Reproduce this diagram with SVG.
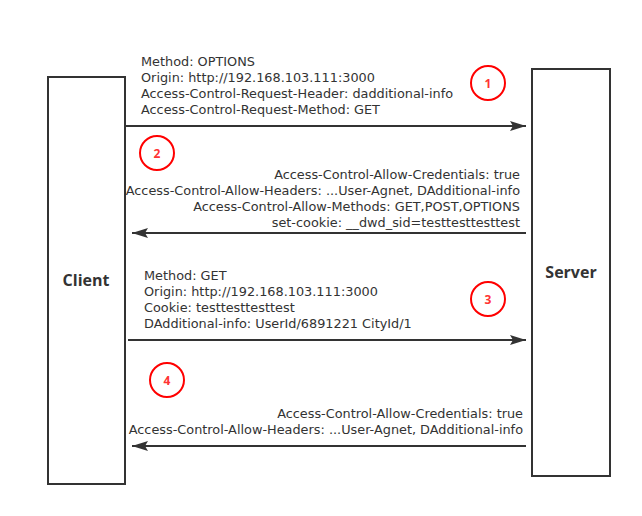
<svg xmlns="http://www.w3.org/2000/svg" width="642" height="516" viewBox="0 0 642 516">
<defs>
<marker id="ah" markerWidth="16" markerHeight="10" refX="16" refY="5" orient="auto" markerUnits="userSpaceOnUse">
<path d="M0,0 L16,5 L0,10 L3,5 Z" fill="#333"/>
</marker>
<style>
.box{fill:#fff;stroke:#333;stroke-width:2}
.lbl{font-family:"Open Sans","Noto Sans",sans-serif;font-size:16px;font-weight:bold;fill:#333;text-anchor:middle}
.t{font-family:"DejaVu Sans",sans-serif;font-size:12.85px;fill:#333}
.r{text-anchor:end}
.ln{stroke:#333;stroke-width:2;fill:none;marker-end:url(#ah)}
.c{fill:none;stroke:#f00;stroke-width:2}
.n{font-family:"Open Sans","Noto Sans",sans-serif;font-size:12px;font-weight:bold;fill:#f33;text-anchor:middle}
</style>
</defs>
<rect width="642" height="516" fill="#fff"/>
<g id="client"><rect class="box" x="48" y="77" width="77" height="407"/><text class="lbl" x="86" y="286">Client</text></g>
<g id="server"><rect class="box" x="532" y="69" width="78" height="407"/><text class="lbl" x="571" y="278">Server</text></g>
<g id="connectors">
<line class="ln" x1="126" y1="126" x2="526" y2="126"/>
<line class="ln" x1="526" y1="233" x2="132" y2="233"/>
<line class="ln" x1="128" y1="340" x2="526" y2="340"/>
<line class="ln" x1="526" y1="446" x2="132" y2="446"/>
</g>
<g id="msg1">
<text class="t" x="141" y="66">Method: OPTIONS</text>
<text class="t" x="141" y="82">Origin: http://192.168.103.111:3000</text>
<text class="t" x="141" y="98">Access-Control-Request-Header: dadditional-info</text>
<text class="t" x="141" y="114">Access-Control-Request-Method: GET</text>
</g>
<g id="msg2">
<text class="t r" x="520" y="179">Access-Control-Allow-Credentials: true</text>
<text class="t r" x="520" y="195">Access-Control-Allow-Headers: ...User-Agnet, DAdditional-info</text>
<text class="t r" x="520" y="211">Access-Control-Allow-Methods: GET,POST,OPTIONS</text>
<text class="t r" x="520" y="227">set-cookie: __dwd_sid=testtesttesttest</text>
</g>
<g id="msg3">
<text class="t" x="144" y="280">Method: GET</text>
<text class="t" x="144" y="296">Origin: http://192.168.103.111:3000</text>
<text class="t" x="144" y="312">Cookie: testtesttesttest</text>
<text class="t" x="144" y="328">DAdditional-info: UserId/6891221 CityId/1</text>
</g>
<g id="msg4">
<text class="t r" x="523" y="418">Access-Control-Allow-Credentials: true</text>
<text class="t r" x="523" y="434">Access-Control-Allow-Headers: ...User-Agnet, DAdditional-info</text>
</g>
<g id="step1"><circle class="c" cx="488" cy="83" r="17"/><text class="n" x="488" y="88">1</text></g>
<g id="step2"><circle class="c" cx="157" cy="153" r="17"/><text class="n" x="157" y="158">2</text></g>
<g id="step3"><circle class="c" cx="488" cy="299" r="17"/><text class="n" x="488" y="304">3</text></g>
<g id="step4"><circle class="c" cx="167" cy="380" r="17"/><text class="n" x="167" y="385">4</text></g>
</svg>
